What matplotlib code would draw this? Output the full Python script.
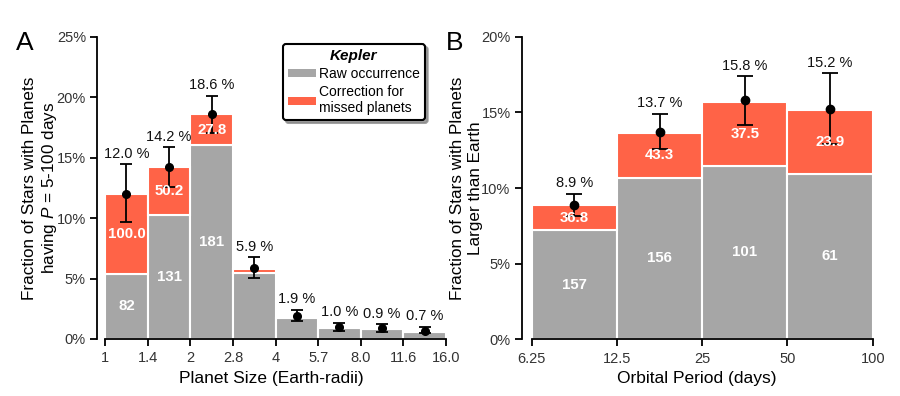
import matplotlib
matplotlib.use("Agg")
import matplotlib.pyplot as plt
import numpy as np
from matplotlib.patches import Patch

plt.rcParams['font.family'] = ['Liberation Sans', 'DejaVu Sans']
plt.rcParams['mathtext.fontset'] = 'custom'
plt.rcParams['mathtext.it'] = 'Liberation Sans:italic'
plt.rcParams['mathtext.rm'] = 'Liberation Sans'

# ---------------- data ----------------
A_edges = ['1', '1.4', '2', '2.8', '4', '5.7', '8.0', '11.6', '16.0']
A_raw = [5.4, 10.25, 16.05, 5.5, 1.77, 0.88, 0.8, 0.6]
A_total = [12.0, 14.2, 18.6, 5.8, 1.77, 0.88, 0.8, 0.6]
A_point = [12.0, 14.2, 18.6, 5.9, 1.9, 1.0, 0.9, 0.7]
A_err_lo = [9.66, 12.6, 17.05, 5.05, 1.49, 0.69, 0.6, 0.47]
A_err_hi = [14.46, 15.86, 20.14, 6.76, 2.43, 1.35, 1.24, 1.02]
A_raw_lbl = ['82', '131', '181', '', '', '', '', '']
A_corr_lbl = ['100.0', '50.2', '27.8', '', '', '', '', '']
A_pct_lbl = ['12.0 %', '14.2 %', '18.6 %', '5.9 %', '1.9 %', '1.0 %', '0.9 %', '0.7 %']

B_edges = ['6.25', '12.5', '25', '50', '100']
B_raw = [7.23, 10.69, 11.48, 10.95]
B_total = [8.86, 13.64, 15.7, 15.17]
B_point = [8.9, 13.7, 15.8, 15.2]
B_err_lo = [8.15, 12.6, 14.15, 12.9]
B_err_hi = [9.63, 14.9, 17.4, 17.6]
B_raw_lbl = ['157', '156', '101', '61']
B_corr_lbl = ['36.8', '43.3', '37.5', '23.9']
B_pct_lbl = ['8.9 %', '13.7 %', '15.8 %', '15.2 %']

GREY = '#A6A6A6'
RED = '#FF6347'
TICKC = '#333333'

W, H = 900, 396
fig = plt.figure(figsize=(9, 3.96), dpi=100)

def px_axes(l, r, b, t):
    return fig.add_axes([l / W, 1 - b / H, (r - l) / W, (b - t) / H])

axA = px_axes(97, 446, 339, 37)
axB = px_axes(521.7, 872.7, 339.3, 36.7)


def draw(ax, raw, total, point, lo, hi, rl, cl, pl, edges, ymax, ystep, capsize, ms, xoff):
    n = len(raw)
    x = np.arange(n) + 0.5
    corr = [t - r for t, r in zip(total, raw)]
    ax.bar(x, raw, width=1.0, color=GREY, edgecolor='white', linewidth=1.5, zorder=2)
    ax.bar(x, corr, width=1.0, bottom=raw, color=RED, edgecolor='white', linewidth=1.5, zorder=2)
    yerr = [np.array(point) - np.array(lo), np.array(hi) - np.array(point)]
    ax.errorbar(x, point, yerr=yerr, fmt='o', color='black', ms=ms, capsize=capsize,
                elinewidth=1.3, capthick=1.3, zorder=4)
    for i in range(n):
        if rl[i]:
            ax.text(x[i], raw[i] / 2, rl[i], color='white', fontweight='bold',
                    fontsize=10.8, ha='center', va='center', zorder=3)
        if cl[i]:
            ax.text(x[i], (raw[i] + total[i]) / 2, cl[i], color='white', fontweight='bold',
                    fontsize=10.8, ha='center', va='center', zorder=5)
        ax.annotate(pl[i], (x[i], hi[i]), xytext=(0, 2.5), textcoords='offset points',
                    ha='center', va='bottom', fontsize=10.5, color='#111111')
    ax.set_xlim(-xoff, n)
    ax.set_ylim(0, ymax)
    ax.set_xticks(np.arange(n + 1))
    ax.set_xticklabels(edges)
    yt = np.arange(0, ymax + 0.01, ystep)
    ax.set_yticks(yt)
    ax.set_yticklabels(['%d%%' % v for v in yt])
    for s in ['top', 'right']:
        ax.spines[s].set_visible(False)
    ax.spines['left'].set_bounds(0, ymax)
    ax.spines['bottom'].set_bounds(0, n)
    ax.spines['left'].set_linewidth(1.3)
    ax.spines['bottom'].set_linewidth(1.3)
    ax.tick_params(axis='both', direction='out', length=5, width=1.3, labelsize=10.5,
                   labelcolor=TICKC, pad=3)
    ax.tick_params(axis='x', pad=4)


draw(axA, A_raw, A_total, A_point, A_err_lo, A_err_hi, A_raw_lbl, A_corr_lbl, A_pct_lbl,
     A_edges, 25, 5, 4.5, 5.5, 0.19)
draw(axB, B_raw, B_total, B_point, B_err_lo, B_err_hi, B_raw_lbl, B_corr_lbl, B_pct_lbl,
     B_edges, 20, 5, 6, 6, 0.117)

axA.set_xlabel('Planet Size (Earth-radii)', fontsize=12.5, labelpad=4)
axB.set_xlabel('Orbital Period (days)', fontsize=12.5, labelpad=4)
axA.set_ylabel('Fraction of Stars with Planets\nhaving $P$ = 5-100 days', fontsize=12.3,
               linespacing=1.25)
axA.yaxis.set_label_coords(-0.108, 0.5)
axB.set_ylabel('Fraction of Stars with Planets\nLarger than Earth', fontsize=12.3,
               linespacing=1.25)
axB.yaxis.set_label_coords(-0.11, 0.5)

fig.text(16 / W, 1 - 50 / H, 'A', fontsize=19, ha='left', va='baseline')
fig.text(446 / W, 1 - 50 / H, 'B', fontsize=19, ha='left', va='baseline')

handles = [Patch(facecolor=GREY, edgecolor='none', label='Raw occurrence'),
           Patch(facecolor=RED, edgecolor='none', label='Correction for\nmissed planets')]
leg = axA.legend(handles=handles, loc='upper left', bbox_to_anchor=(0.533, 0.977),
                 title='Kepler', fontsize=10, title_fontproperties={'weight': 'bold', 'style': 'italic', 'size': 11},
                 frameon=True, fancybox=True, shadow={'color': '#888888', 'alpha': 0.8},
                 framealpha=1, edgecolor='black', handlelength=2.0, handleheight=0.5,
                 handletextpad=0.25, borderpad=0.35, labelspacing=0.3, borderaxespad=0)
leg.get_frame().set_linewidth(1.5)

fig.savefig('out.png', dpi=100)
